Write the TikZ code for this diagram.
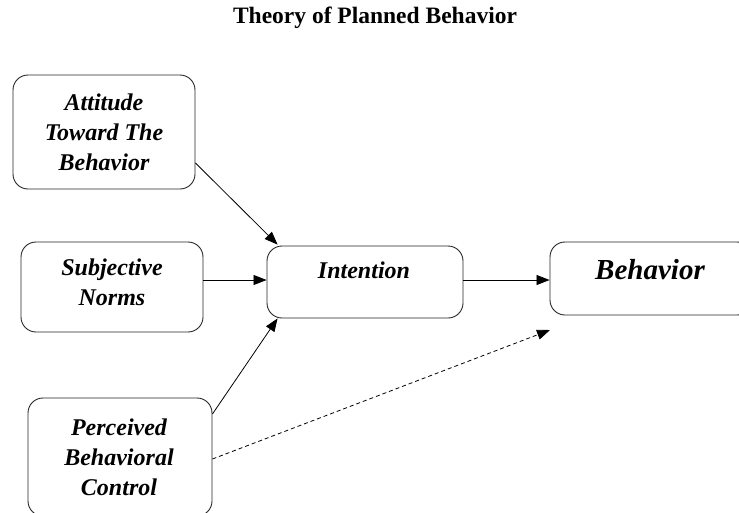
\documentclass[tikz,border=0pt]{standalone}
\usepackage{fontspec}
\setmainfont{Liberation Serif}
\usetikzlibrary{arrows.meta}
\tikzset{
  box/.style={draw=black!85, line width=0.9pt, rounded corners=15pt, inner sep=0pt},
  lbl/.style={font=\fontsize{24}{30}\selectfont\bfseries\itshape, align=center, inner sep=0pt},
  conn/.style={line width=0.8pt, -{Triangle[length=13pt,width=10pt]}},
}
\begin{document}
\begin{tikzpicture}[x=1pt,y=-1pt]
\useasboundingbox (0,0) rectangle (739,512);
\node[font=\fontsize{23.5}{28}\selectfont\bfseries, inner sep=0pt] (title) at (375,18) {Theory of Planned Behavior};
\node[box, minimum width=182pt, minimum height=114pt] (att) at (104,132) {};
\node[box, minimum width=182pt, minimum height=90pt] (sub) at (112,287) {};
\node[box, minimum width=196pt, minimum height=72pt] (int) at (365,282) {};
\node[box, minimum width=202pt, minimum height=73pt] (beh) at (651,278.5) {};
\node[box, minimum width=184pt, minimum height=118pt] (pbc) at (120,457) {};
\node[lbl] (attt) at (104,132) {Attitude\\Toward The\\Behavior};
\node[lbl] (subt) at (112,282.5) {Subjective\\Norms};
\node[lbl] (intt) at (364,270) {Intention};
\node[lbl, font=\fontsize{29}{34}\selectfont\bfseries\itshape] (beht) at (650,270) {Behavior};
\node[lbl] (pbct) at (119,457) {Perceived\\Behavioral\\Control};
\coordinate (dashend) at (550,330);
\draw[conn] ([yshift=-31pt]att.east) -- ([xshift=11pt,yshift=1pt]int.north west);
\draw[conn] ([yshift=7pt]sub.east) -- ([yshift=2pt]int.west);
\draw[conn] ([yshift=43pt]pbc.east) -- ([xshift=11pt]int.south west);
\draw[conn] ([yshift=2pt]int.east) -- ([yshift=-1.5pt]beh.west);
\draw[conn, dash pattern=on 4pt off 3pt] ([yshift=-2pt]pbc.east) -- (dashend);
\end{tikzpicture}
\end{document}
